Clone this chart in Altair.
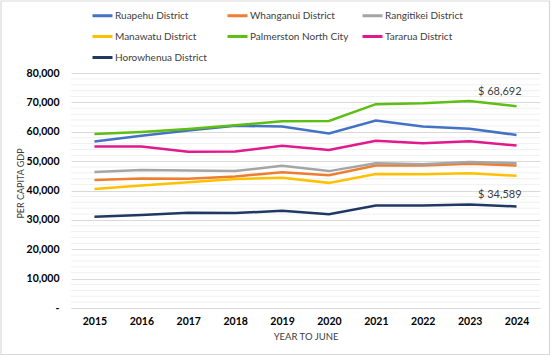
import altair as alt
import pandas as pd

years = ["2015", "2016", "2017", "2018", "2019", "2020", "2021", "2022", "2023", "2024"]
series_names = ["Ruapehu District", "Whanganui District", "Rangitikei District",
                "Manawatu District", "Palmerston North City", "Tararua District",
                "Horowhenua District"]
series_colors = ["#4472C4", "#ED7D31", "#A5A5A5", "#FFC000", "#5DBE14", "#E0198C", "#203864"]

ruapehu = [56700, 58600, 60400, 62000, 61800, 59400, 63800, 61800, 61000, 58900]
whanganui = [43600, 44100, 44000, 44800, 46200, 45200, 48500, 48500, 49100, 48500]
rangitikei = [46300, 47000, 46800, 46600, 48400, 46600, 49300, 48900, 49700, 49300]
manawatu = [40500, 41700, 42800, 43900, 44300, 42600, 45600, 45500, 45900, 45000]
palmerston = [59200, 59900, 60900, 62200, 63600, 63700, 69400, 69700, 70500, 68692]
tararua = [55000, 55000, 53200, 53300, 55200, 53800, 56900, 56100, 56800, 55300]
horowhenua = [31100, 31700, 32400, 32300, 33100, 31900, 34900, 34900, 35200, 34589]

all_values = [ruapehu, whanganui, rangitikei, manawatu, palmerston, tararua, horowhenua]

rows = []
for name, vals in zip(series_names, all_values):
    for y, v in zip(years, vals):
        rows.append({"Year": y, "Region": name, "GDP": v})
df = pd.DataFrame(rows)

# legend slot order (the legend grid fills column-wise)
legend_order = [series_names[i] for i in [0, 3, 5, 1, 4, 6, 2]]
legend_colors = [series_colors[series_names.index(n)] for n in legend_order]

minor_grid = [v for v in range(2000, 80001, 2000) if v % 10000 != 0]
minor_df = pd.DataFrame({"GDP": minor_grid})

FONT = "Lato"

x_scale = alt.Scale(domain=years)
y_scale = alt.Scale(domain=[0, 80000], nice=False)

x_axis = alt.Axis(labelAngle=0, ticks=False, domain=True, domainColor="#d9d9d9",
                  labelFontWeight="bold", labelFontSize=10.5, labelColor="#000000",
                  labelPadding=8, titleFontSize=9.5, titleFontWeight="normal",
                  titleColor="#404040", titlePadding=5, labelFont=FONT, titleFont=FONT)
y_axis = alt.Axis(values=list(range(0, 80001, 10000)), grid=True, gridColor="#d9d9d9",
                  ticks=False, domain=False, labelOverlap=False,
                  labelExpr="datum.value == 0 ? '-' : format(datum.value, ',')",
                  labelFontWeight="bold", labelFontSize=10.5, labelColor="#000000",
                  labelPadding=12, titleFontSize=9, titleFontWeight="normal",
                  titleColor="#404040", titlePadding=1, titleY=110,
                  labelFont=FONT, titleFont=FONT)

def xe():
    return alt.X("Year:N", sort=years, title="YEAR TO JUNE", scale=x_scale, axis=x_axis)

def ye():
    return alt.Y("GDP:Q", scale=y_scale, title="PER CAPITA GDP", axis=y_axis)

minor = alt.Chart(minor_df).mark_rule(color="#f0f0f0", strokeWidth=1).encode(y=ye())

lines = alt.Chart(df).mark_line(strokeWidth=2.5).encode(
    x=xe(),
    y=ye(),
    color=alt.Color("Region:N", scale=alt.Scale(domain=legend_order, range=legend_colors),
                    legend=alt.Legend(title=None, orient="none", legendX=20, legendY=-69,
                                      columns=3, gridAlign="all", symbolType="stroke",
                                      symbolSize=400, symbolStrokeWidth=3, labelOffset=1,
                                      columnPadding=7, rowPadding=3, labelFontSize=10,
                                      labelFont=FONT, labelColor="#404040", labelLimit=200)),
    order=alt.Order("Year:N")
)

lab_green = pd.DataFrame({"Year": [years[-1]], "GDP": [palmerston[-1]],
                          "Label": ["$ " + format(palmerston[-1], ",")]})
lab_navy = pd.DataFrame({"Year": [years[-1]], "GDP": [horowhenua[-1]],
                         "Label": ["$ " + format(horowhenua[-1], ",")]})

text_green = alt.Chart(lab_green).mark_text(align="right", baseline="middle", dx=5, dy=-14,
                                            fontSize=11, font=FONT, color="#404040").encode(
    x=xe(), y=ye(), text="Label:N")
text_navy = alt.Chart(lab_navy).mark_text(align="right", baseline="middle", dx=5, dy=-11,
                                          fontSize=11, font=FONT, color="#404040").encode(
    x=xe(), y=ye(), text="Label:N")

border = alt.Chart(pd.DataFrame({"a": [0]})).mark_rect(filled=False, stroke="#d9d9d9",
                                                       strokeWidth=1.2).encode(
    x=alt.value(-70), x2=alt.value(478.5), y=alt.value(-72), y2=alt.value(281.5))

chart = alt.layer(minor, lines, text_green, text_navy, border).properties(
    width=469, height=235,
    autosize=alt.AutoSizeParams(type="none"),
    padding={"left": 71, "top": 73, "right": 11, "bottom": 48},
    background="#ffffff"
).configure_view(stroke=None)

chart.save("out.html", embed_options={"renderer": "svg", "actions": False})
